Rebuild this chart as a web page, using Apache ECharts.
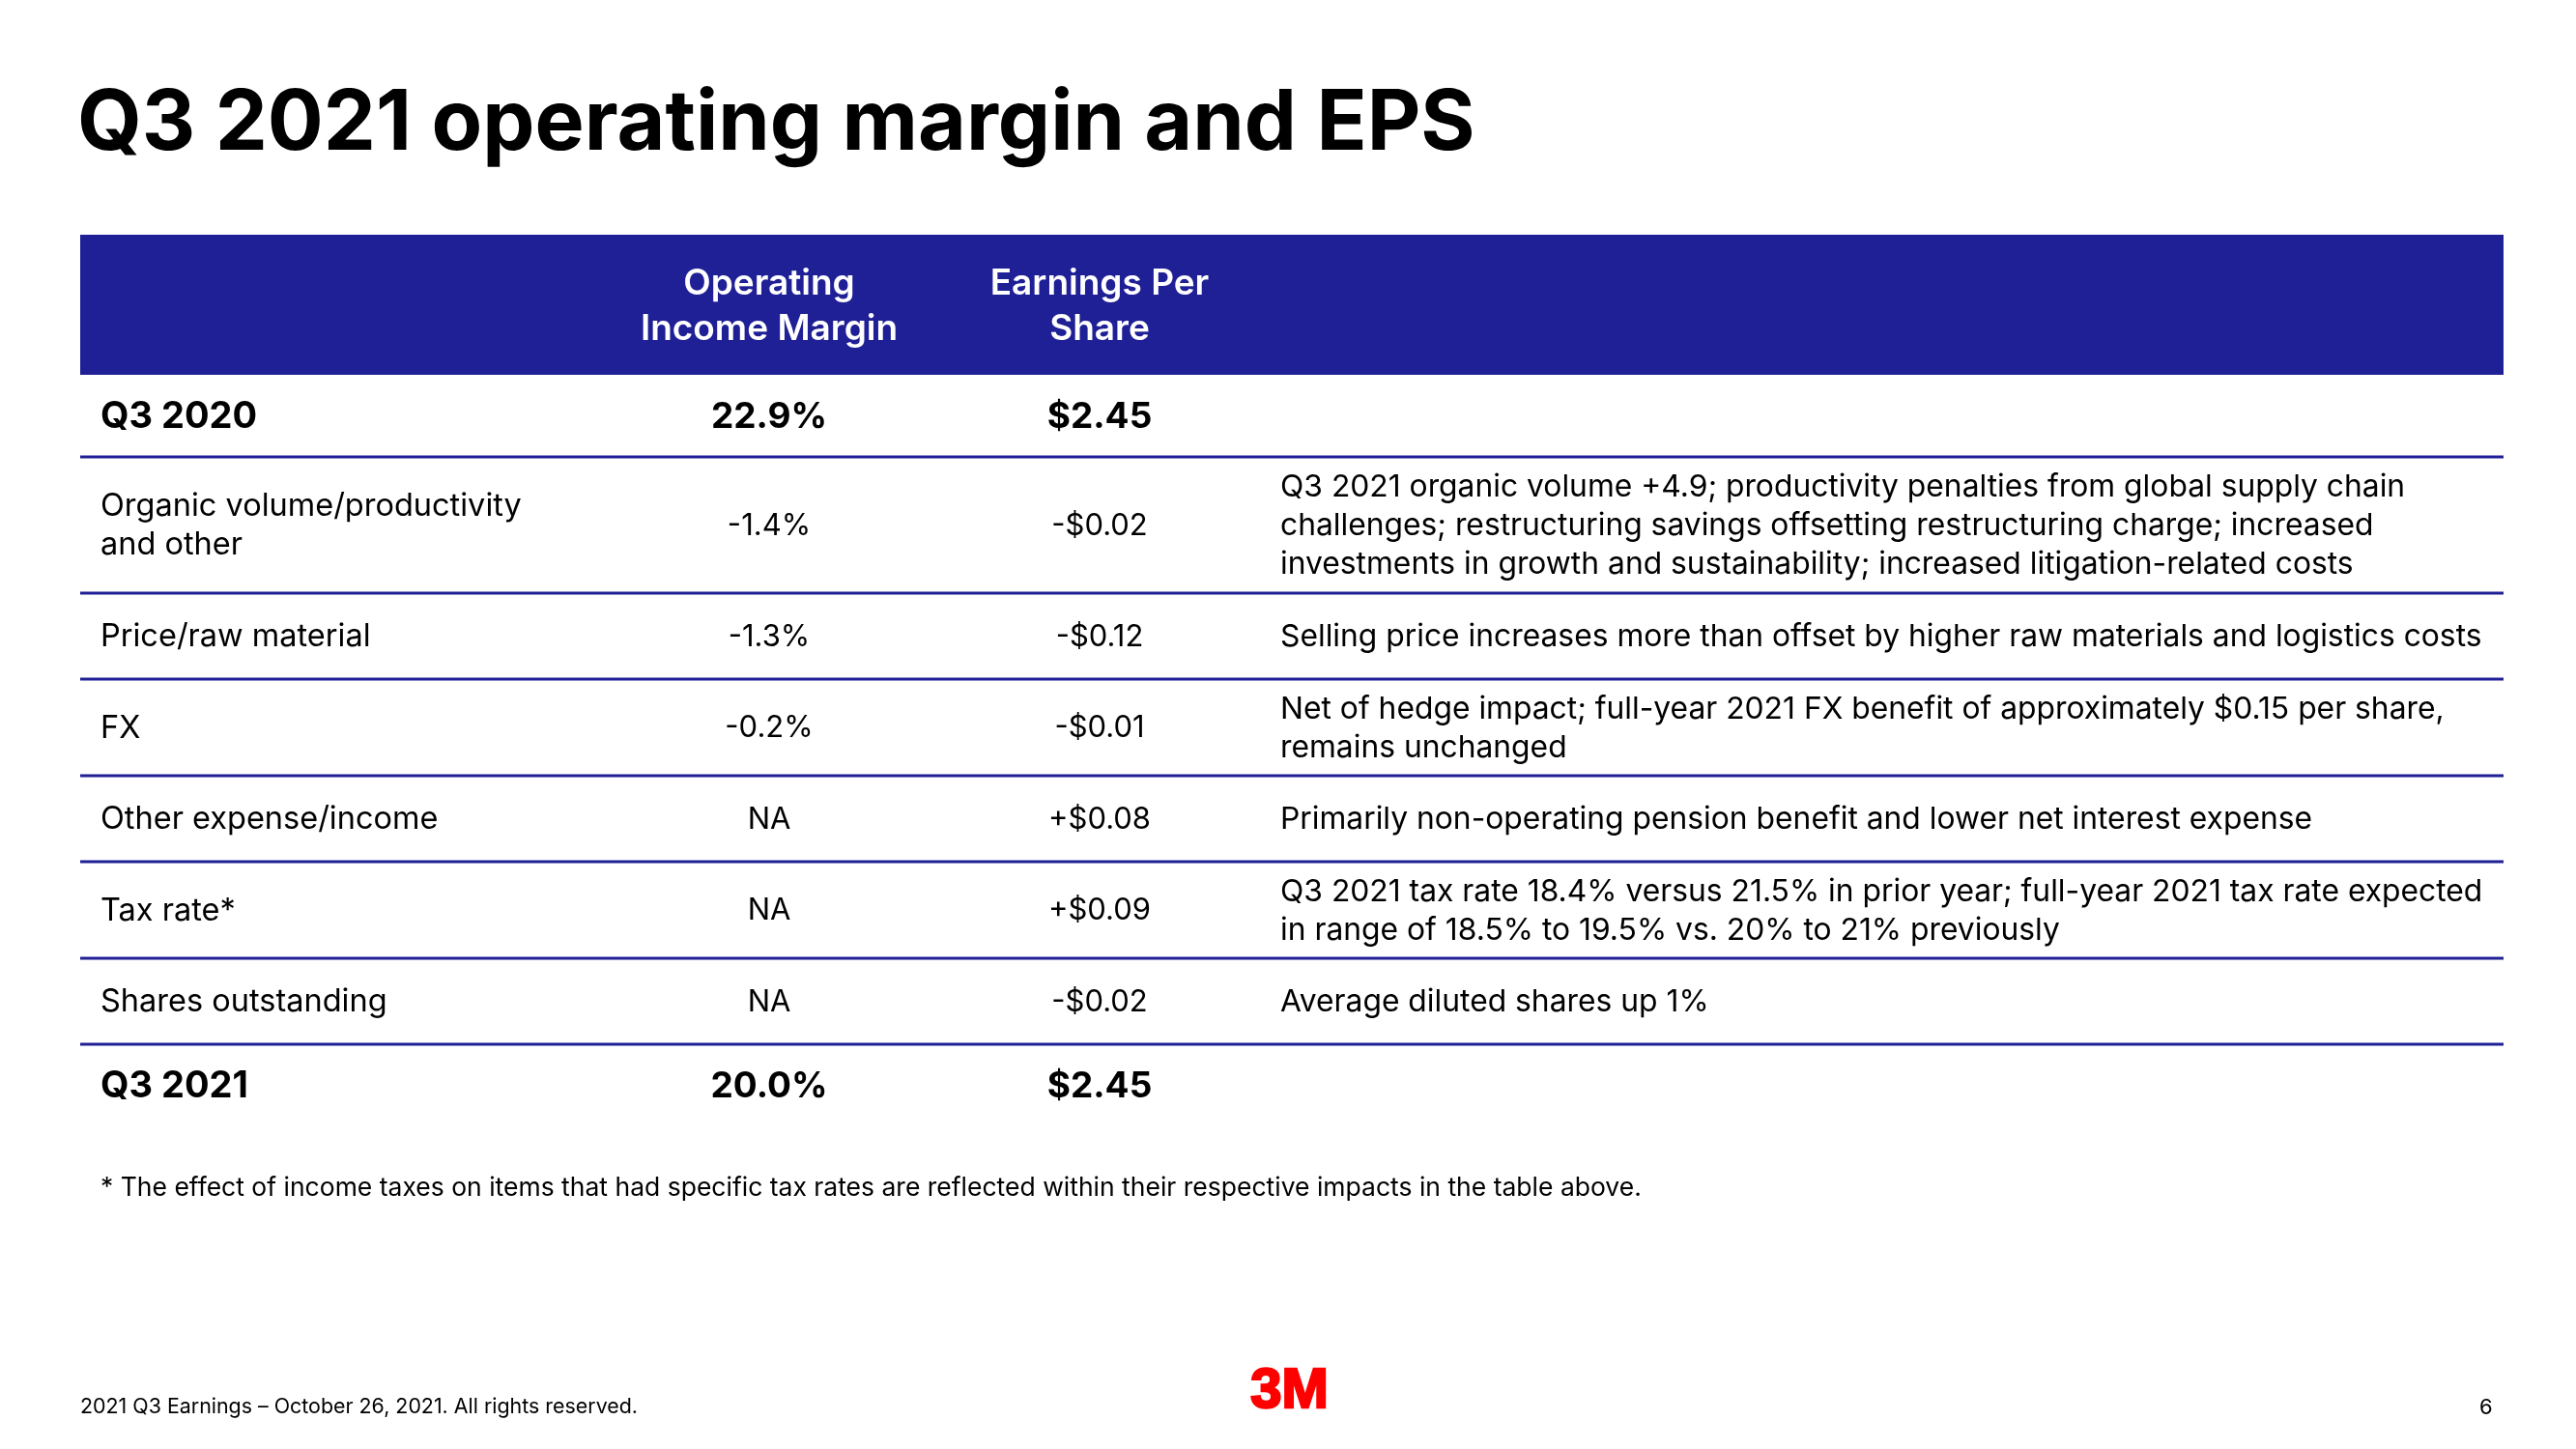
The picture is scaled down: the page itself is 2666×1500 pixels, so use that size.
<!DOCTYPE html>
<html><head><meta charset="utf-8">
<script src="https://cdn.jsdelivr.net/npm/echarts@6/dist/echarts.min.js"></script>
<style>html,body{margin:0;padding:0;background:#fff}#c{width:2666px;height:1500px}</style>
</head><body><div id="c"></div>
<script>
// ---------- data ----------
const titleText = 'Q3 2021 operating margin and EPS';
const columnHeaders = ['Operating\nIncome Margin', 'Earnings Per\nShare'];
const rowLabels = ['Q3 2020', 'Organic volume/productivity\nand other', 'Price/raw material', 'FX',
  'Other expense/income', 'Tax rate*', 'Shares outstanding', 'Q3 2021'];
const rowIsTotal = [true, false, false, false, false, false, false, true];
const marginValues = [22.9, -1.4, -1.3, -0.2, null, null, null, 20.0];
const epsValues = [2.45, -0.02, -0.12, -0.01, 0.08, 0.09, -0.02, 2.45];
const notes = [
  '',
  'Q3 2021 organic volume +4.9; productivity penalties from global supply chain\nchallenges; restructuring savings offsetting restructuring charge; increased\ninvestments in growth and sustainability; increased litigation-related costs',
  'Selling price increases more than offset by higher raw materials and logistics costs',
  'Net of hedge impact; full-year 2021 FX benefit of approximately $0.15 per share,\nremains unchanged',
  'Primarily non-operating pension benefit and lower net interest expense',
  'Q3 2021 tax rate 18.4% versus 21.5% in prior year; full-year 2021 tax rate expected\nin range of 18.5% to 19.5% vs. 20% to 21% previously',
  'Average diluted shares up 1%',
  ''
];
const footnoteText = '* The effect of income taxes on items that had specific tax rates are reflected within their respective impacts in the table above.';
const footerText = '2021 Q3 Earnings \u2013 October 26, 2021. All rights reserved.';
const pageNumber = '6';
const logoText = '3M';

// ---------- layout / style ----------
const NAVY = '#1F1F96';
const FONT = 'Inter';
const TABLE_W = 2508;
const HEADER_H = 145;
function rowHeightFor(i) {
  if (rowIsTotal[i]) return 85;
  const lines = Math.max(rowLabels[i].split('\n').length, notes[i] ? notes[i].split('\n').length : 1);
  return lines >= 3 ? 141 : (lines === 2 ? 100 : 89);
}
const rowTop = []; let acc = HEADER_H;
rowLabels.forEach((_, i) => { rowTop.push(acc); acc += rowHeightFor(i); });
const TABLE_H = acc;
const COL_LABEL = 21, COL_MARGIN = 713, COL_EPS = 1055, COL_NOTE = 1242;

function fmtMargin(v, total) {
  if (v === null) return 'NA';
  if (total) return v.toFixed(1) + '%';
  return (v < 0 ? '-' : '+') + Math.abs(v).toFixed(1) + '%';
}
function fmtEps(v, total) {
  if (v === null) return 'NA';
  if (total) return '$' + v.toFixed(2);
  return (v < 0 ? '-' : '+') + '$' + Math.abs(v).toFixed(2);
}

const chart = echarts.init(document.getElementById('c'), null, {renderer: 'canvas'});

function renderHeader(params, api) {
  const p0 = api.coord([0, 0]);
  const p1 = api.coord([TABLE_W, HEADER_H]);
  const midY = (p0[1] + p1[1]) / 2 + 2;
  const txt = (x, s) => ({
    type: 'text',
    style: {x: api.coord([x, 0])[0], y: midY, text: s, fill: '#fff', align: 'center', verticalAlign: 'middle',
      font: '600 37px ' + FONT, lineHeight: 47}
  });
  return {type: 'group', children: [
    {type: 'rect', shape: {x: p0[0], y: p0[1], width: p1[0] - p0[0], height: p1[1] - p0[1]}, style: {fill: NAVY}},
    txt(COL_MARGIN, columnHeaders[0]),
    txt(COL_EPS, columnHeaders[1])
  ]};
}

function renderRow(params, api) {
  const i = api.value(0);
  const top = rowTop[i], h = rowHeightFor(i);
  const pTop = api.coord([0, top]);
  const pBot = api.coord([TABLE_W, top + h]);
  const midY = (pTop[1] + pBot[1]) / 2 + 1;
  const total = rowIsTotal[i];
  const labelFont = total ? '700 38px ' + FONT : '400 32.5px ' + FONT;
  const valFont = total ? '700 37px ' + FONT : '400 31px ' + FONT;
  const children = [
    {type: 'text', style: {x: api.coord([COL_LABEL, 0])[0], y: midY, text: rowLabels[i], fill: '#000',
      align: 'left', verticalAlign: 'middle', font: labelFont, lineHeight: 40}},
    {type: 'text', style: {x: api.coord([COL_MARGIN, 0])[0], y: midY, text: fmtMargin(marginValues[i], total), fill: '#000',
      align: 'center', verticalAlign: 'middle', font: valFont}},
    {type: 'text', style: {x: api.coord([COL_EPS, 0])[0], y: midY, text: fmtEps(epsValues[i], total), fill: '#000',
      align: 'center', verticalAlign: 'middle', font: valFont}}
  ];
  if (notes[i]) {
    children.push({type: 'text', style: {x: api.coord([COL_NOTE, 0])[0], y: midY, text: notes[i], fill: '#000',
      align: 'left', verticalAlign: 'middle', font: '400 31.8px ' + FONT, lineHeight: 40}});
  }
  if (i < rowLabels.length - 1) {
    children.push({type: 'line', shape: {x1: pTop[0], y1: pBot[1], x2: pBot[0], y2: pBot[1]},
      style: {stroke: NAVY, lineWidth: 3}});
  }
  return {type: 'group', children};
}

chart.setOption({
  animation: false,
  backgroundColor: '#fff',
  grid: {left: 83, top: 243, width: TABLE_W, height: TABLE_H},
  xAxis: {type: 'value', min: 0, max: TABLE_W, show: false},
  yAxis: {type: 'value', min: 0, max: TABLE_H, inverse: true, show: false},
  graphic: [
    {type: 'text', left: 80, top: 86, style: {text: titleText, font: '700 86px ' + FONT, fill: '#000'}},
    {type: 'text', left: 104, top: 1217, style: {text: footnoteText, font: '400 26.5px ' + FONT, fill: '#000'}},
    {type: 'text', left: 83, top: 1446, style: {text: footerText, font: '400 21.4px ' + FONT, fill: '#000'}},
    {type: 'text', left: 2566, top: 1446, style: {text: pageNumber, font: '400 22px ' + FONT, fill: '#000'}},
    {type: 'text', left: 1293, top: 1411, style: {text: logoText, font: '700 58px "Liberation Sans"', fill: '#FF0000',
      stroke: '#FF0000', lineWidth: 2.5}}
  ],
  series: [
    {type: 'custom', renderItem: renderHeader, data: [[0]], silent: true},
    {type: 'custom', renderItem: renderRow, data: rowLabels.map((_, i) => [i]), silent: true}
  ]
});
</script></body></html>
